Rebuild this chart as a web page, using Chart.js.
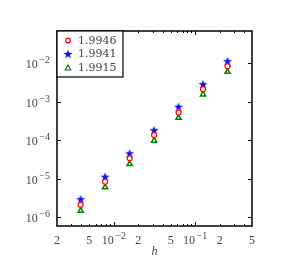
<!DOCTYPE html>
<html>
<head>
<meta charset="utf-8">
<script src="https://cdn.jsdelivr.net/npm/chart.js@4.4.1/dist/chart.umd.min.js"></script>
<style>
  html,body{margin:0;padding:0;background:#fff}
  canvas{display:block}
</style>
</head>
<body>
<canvas id="c" width="289" height="273"></canvas>
<script>
// données (h = 1/256 ... 1/4)
const hValues = [1/256, 1/128, 1/64, 1/32, 1/16, 1/8, 1/4];
const seriesLabels = ['1.9946', '1.9941', '1.9915'];
const errRed   = [2.1e-6, 8.4e-6, 3.4e-5, 1.37e-4, 5.3e-4, 2.15e-3, 8.5e-3];
const errBlue  = [2.95e-6, 1.13e-5, 4.6e-5, 1.85e-4, 7.5e-4, 2.9e-3, 1.15e-2];
const errGreen = [1.48e-6, 6.0e-6, 2.42e-5, 9.8e-5, 3.86e-4, 1.57e-3, 6.05e-3];

// graduations
const xTickValues = [2e-3, 5e-3, 1e-2, 2e-2, 5e-2, 1e-1, 2e-1, 5e-1];
const xMinorValues = [3e-3,4e-3,5e-3,6e-3,7e-3,8e-3,9e-3, 2e-2,3e-2,4e-2,5e-2,6e-2,7e-2,8e-2,9e-2, 2e-1,3e-1,4e-1];
const xMajorValues = [1e-2, 1e-1];
const yTickValues = [1e-6, 1e-5, 1e-4, 1e-3, 1e-2];

const SERIF = '"Liberation Serif", "DejaVu Serif", serif';
const TXT = '#444';

// étoile pleine à 5 branches pour la 2e série
function starImg(size, color){
  const cv = document.createElement('canvas'); cv.width = size; cv.height = size;
  const g = cv.getContext('2d'); const c = size/2, R = size/2 - 0.3, r = R*0.42;
  g.beginPath();
  for(let i=0;i<10;i++){
    const a = -Math.PI/2 + i*Math.PI/5, rr = i%2 ? r : R;
    g.lineTo(c + rr*Math.cos(a), c + rr*Math.sin(a) + 0.4);
  }
  g.closePath(); g.fillStyle = color; g.fill();
  return cv;
}
const star = starImg(10, '#1010ff');

const pts = arr => arr.map((v,i)=>({x:hValues[i], y:v}));

// "10" avec exposant
function pow10(ctx, exp, x, base, align){
  const big = '12px ' + SERIF, small = '10px ' + SERIF;
  ctx.font = big; const w1 = ctx.measureText('10').width;
  const sup = '\u2212' + Math.abs(exp);
  ctx.font = small; const w2 = ctx.measureText(sup).width;
  const tot = w1 + 1.5 + w2;
  let x0 = align === 'right' ? x - tot : x - tot/2;
  ctx.textAlign = 'left'; ctx.textBaseline = 'alphabetic';
  ctx.font = big; ctx.fillText('10', x0, base);
  ctx.font = small; ctx.fillText(sup, x0 + w1 + 1.5, base - 5);
}

const decor = {
  id: 'decor',
  afterDraw(chart){
    const ctx = chart.ctx, {left,right,top,bottom} = chart.chartArea;
    const xs = chart.scales.x, ys = chart.scales.y;
    const seg = (a,b,c,d)=>{ ctx.beginPath(); ctx.moveTo(a,b); ctx.lineTo(c,d); ctx.stroke(); };
    ctx.save();
    ctx.strokeStyle = '#000'; ctx.lineWidth = 1;
    yTickValues.forEach(v=>{
      const y = Math.round(ys.getPixelForValue(v)) + 0.5;
      seg(left, y, left+4, y); seg(right, y, right-4, y);
    });
    xMinorValues.forEach(v=>{
      const x = Math.round(xs.getPixelForValue(v)) + 0.5;
      seg(x, bottom, x, bottom-2); seg(x, top, x, top+2);
    });
    xMajorValues.forEach(v=>{
      const x = Math.round(xs.getPixelForValue(v)) + 0.5;
      seg(x, bottom, x, bottom-4); seg(x, top, x, top+4);
    });
    ctx.lineWidth = 1.5;
    ctx.strokeRect(left, top, right-left, bottom-top);

    // étiquettes
    ctx.fillStyle = TXT;
    yTickValues.forEach(v=>{
      const y = ys.getPixelForValue(v);
      pow10(ctx, Math.round(Math.log10(v)), left-7, y+5, 'right');
    });
    xTickValues.forEach(v=>{
      const x = xs.getPixelForValue(v);
      const e = Math.floor(Math.log10(v)+1e-9), m = Math.round(v/Math.pow(10,e));
      if(m === 1) pow10(ctx, e, x, bottom+18, 'center');
      else { ctx.font = '12px '+SERIF; ctx.textAlign='center'; ctx.textBaseline='alphabetic'; ctx.fillText(String(m), x, bottom+18); }
    });
    ctx.font = 'italic 12px '+SERIF; ctx.textAlign='center';
    ctx.fillText('h', (left+right)/2, bottom+29);

    // légende
    const lx = left, ly = top, lw = 66, lh = 46;
    ctx.fillStyle = '#fff'; ctx.fillRect(lx, ly, lw, lh);
    ctx.lineWidth = 1.2; ctx.strokeStyle = '#000'; ctx.strokeRect(lx, ly, lw, lh);
    const rows = [ly+9.5, ly+23, ly+37];
    const mx = lx + 11;
    ctx.lineWidth = 1.2;
    ctx.strokeStyle = 'red'; ctx.beginPath(); ctx.arc(mx, rows[0], 2.3, 0, Math.PI*2); ctx.stroke();
    ctx.drawImage(star, mx-5, rows[1]-5);
    ctx.strokeStyle = '#008000'; ctx.beginPath();
    ctx.moveTo(mx, rows[2]-3); ctx.lineTo(mx+2.8, rows[2]+2); ctx.lineTo(mx-2.8, rows[2]+2); ctx.closePath(); ctx.stroke();
    ctx.fillStyle = TXT; ctx.font = '11px "DejaVu Serif", serif'; ctx.textAlign='left'; ctx.textBaseline='middle';
    seriesLabels.forEach((t,i)=>ctx.fillText(t, lx+21, rows[i]+0.5));
    ctx.restore();
  }
};

new Chart(document.getElementById('c'), {
  type: 'scatter',
  data: { datasets: [
    { label: seriesLabels[0], data: pts(errRed), pointStyle:'circle', radius:2.5, borderColor:'red', backgroundColor:'#fff', borderWidth:1.2 },
    { label: seriesLabels[1], data: pts(errBlue), pointStyle: star, radius:5, borderColor:'#1010ff', backgroundColor:'#1010ff' },
    { label: seriesLabels[2], data: pts(errGreen), pointStyle:'triangle', radius:3, borderColor:'#008000', backgroundColor:'#fff', borderWidth:1.5 }
  ]},
  options: {
    responsive:false, animation:false, events:[],
    layout:{ padding:{ left:0, top:31, right:37, bottom:0 } },
    plugins:{ legend:{display:false}, tooltip:{enabled:false} },
    scales:{
      x:{ type:'logarithmic', min:2e-3, max:5e-1, grid:{display:false}, border:{display:false}, ticks:{display:false},
          afterFit: s=>{ s.height = 47; } },
      y:{ type:'logarithmic', min:5.9e-7, max:0.07, grid:{display:false}, border:{display:false}, ticks:{display:false},
          afterFit: s=>{ s.width = 57; } }
    }
  },
  plugins:[decor]
});
</script>
</body>
</html>
